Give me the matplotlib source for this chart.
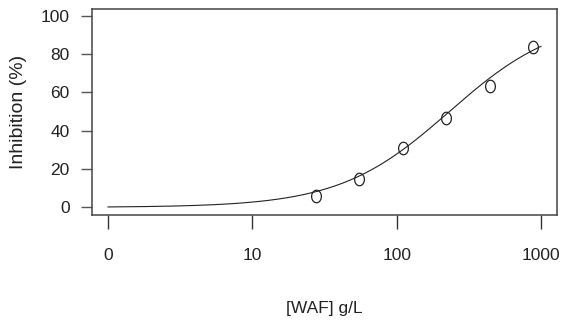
import numpy as np
import matplotlib
matplotlib.use("Agg")
import matplotlib.pyplot as plt
from matplotlib.path import Path

# measured doses (g/L) and inhibition (%)
dose = [27.5, 55, 110, 220, 440, 880]
inhibition = [5.7, 14.8, 31.0, 46.6, 63.1, 83.5]

# log-logistic fit parameters
top = 100.0
ec50 = 232.0
slope = 1.135

xticks = [1, 10, 100, 1000]
xtick_labels = ["0", "10", "100", "1000"]
yticks = [0, 20, 40, 60, 80, 100]

font = ["Liberation Sans", "DejaVu Sans"]

fig = plt.figure(figsize=(5.61, 3.25), dpi=100)
ax = fig.add_axes([92 / 561, 1 - 215 / 325, (557 - 92) / 561, (215 - 9) / 325])

xs = np.logspace(0, 3, 300)
ax.plot(xs, top / (1 + (ec50 / xs) ** slope), color="#222222", lw=0.8)

# slightly squeezed circle, like the original
t = np.linspace(0, 2 * np.pi, 60)
oval = Path(np.column_stack([0.78 * np.cos(t), np.sin(t)]), closed=True)
ax.plot(dose, inhibition, linestyle="none", marker=oval, markersize=9,
        markerfacecolor="none", markeredgecolor="#222222", markeredgewidth=0.9)

ax.set_xscale("log")
ax.set_xlim(10 ** -0.111, 10 ** 3.111)
ax.set_ylim(-4, 103.5)
ax.set_xticks(xticks)
ax.set_xticklabels(xtick_labels)
ax.xaxis.set_minor_locator(plt.NullLocator())
ax.set_yticks(yticks)

for s in ax.spines.values():
    s.set_color("#444444")
    s.set_linewidth(1.1)

ax.tick_params(axis="x", direction="out", length=10, width=1, color="#333333",
               pad=14, labelsize=12.5)
ax.tick_params(axis="y", direction="out", length=8, width=1, color="#555555",
               pad=8, labelsize=12.5)
for lab in ax.get_xticklabels() + ax.get_yticklabels():
    lab.set_family(font)
    lab.set_color("#222222")

ax.set_xlabel("[WAF] g/L", family=font, fontsize=12.5, color="#222222")
ax.xaxis.label.set_va("center")
ax.xaxis.set_label_coords(0.5, -(308 - 215) / 206)
ax.set_ylabel("Inhibition (%)", family=font, fontsize=14, color="#222222")
ax.yaxis.label.set_va("center")
ax.yaxis.set_label_coords(-(92 - 19) / 465, 0.5)

fig.savefig("out.png", dpi=100)
